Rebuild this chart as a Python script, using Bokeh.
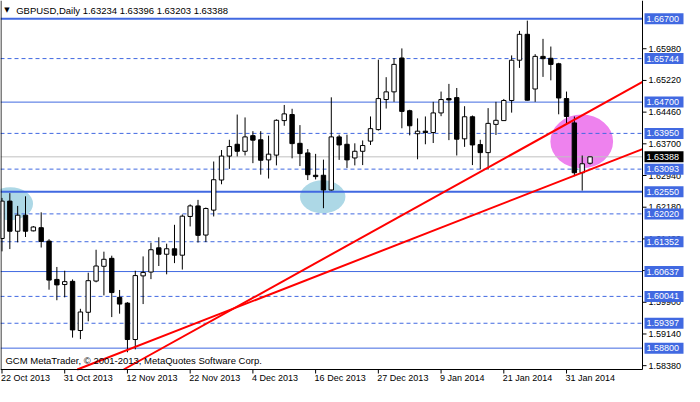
from bokeh.plotting import figure
from bokeh.models import Range1d, Label, ColumnDataSource
from bokeh.embed import file_html
from bokeh.resources import INLINE
from bokeh.core.properties import value

# ---------------- data ----------------
opens = [1.61430, 1.62326, 1.61604, 1.61988, 1.61613, 1.61689, 1.61367, 1.60448, 1.60326, 1.60402,
         1.59223, 1.59660, 1.60409, 1.60763, 1.60954, 1.60018, 1.59880, 1.59007, 1.60533, 1.60625,
         1.61206, 1.61052, 1.61183, 1.61029, 1.61958, 1.62211, 1.61512, 1.62110, 1.62832, 1.63406,
         1.63689, 1.63521, 1.63896, 1.63797, 1.63315, 1.63429, 1.64257, 1.64402, 1.63712, 1.63482,
         1.62946, 1.62946, 1.62593, 1.63866, 1.63689, 1.63361, 1.63521, 1.63765, 1.64041, 1.64762,
         1.64946, 1.65758, 1.64494, 1.63942, 1.64003, 1.63971, 1.64441, 1.64785, 1.64808, 1.63820,
         1.64349, 1.63682, 1.63489, 1.64166, 1.64257, 1.64739, 1.65705, 1.66326, 1.65015, 1.65797,
         1.65751, 1.65620, 1.64785, 1.64202, 1.63006, 1.63234]
highs = [1.62402, 1.62517, 1.62211, 1.62441, 1.61728, 1.62057, 1.61413, 1.60747, 1.60656, 1.60448,
         1.59743, 1.60609, 1.61160, 1.61114, 1.61017, 1.60195, 1.59903, 1.60656, 1.61000, 1.61328,
         1.61459, 1.61305, 1.61758, 1.62005, 1.62248, 1.62356, 1.62172, 1.63276, 1.63551, 1.63797,
         1.64402, 1.64333, 1.64003, 1.64003, 1.63896, 1.64287, 1.64632, 1.64540, 1.64149, 1.63574,
         1.63459, 1.63321, 1.64815, 1.63919, 1.63919, 1.63712, 1.63781, 1.64356, 1.65719, 1.65298,
         1.65758, 1.65988, 1.64517, 1.64310, 1.64356, 1.64707, 1.64953, 1.65137, 1.65039, 1.64602,
         1.64379, 1.63797, 1.64556, 1.64707, 1.64776, 1.65820, 1.66408, 1.66654, 1.65850, 1.66217,
         1.66033, 1.65643, 1.64953, 1.64356, 1.63420, 1.63396]
lows = [1.61121, 1.61176, 1.61337, 1.61466, 1.61600, 1.61213, 1.60202, 1.59949, 1.60018, 1.59053,
        1.59016, 1.59444, 1.60379, 1.60065, 1.59545, 1.59627, 1.58701, 1.58770, 1.59857, 1.60455,
        1.60770, 1.60570, 1.60839, 1.60685, 1.61719, 1.61333, 1.61344, 1.61958, 1.62730, 1.63099,
        1.63398, 1.63421, 1.63236, 1.62960, 1.62868, 1.63183, 1.64133, 1.63352, 1.63167, 1.62831,
        1.62846, 1.62156, 1.62580, 1.63315, 1.63122, 1.63183, 1.63190, 1.63673, 1.64018, 1.64546,
        1.64707, 1.64073, 1.63903, 1.63329, 1.63689, 1.63719, 1.64363, 1.63788, 1.63420, 1.63627,
        1.63190, 1.63091, 1.63084, 1.63912, 1.64448, 1.64448, 1.65521, 1.64739, 1.64707, 1.65305,
        1.65222, 1.64408, 1.64188, 1.62924, 1.62579, 1.63203]
closes = [1.62326, 1.61604, 1.61988, 1.61604, 1.61705, 1.61360, 1.60432, 1.60317, 1.60395, 1.59237,
          1.59667, 1.60418, 1.60770, 1.60931, 1.60133, 1.59857, 1.59007, 1.60540, 1.60616, 1.61160,
          1.61052, 1.61183, 1.61029, 1.61965, 1.62211, 1.61505, 1.62149, 1.62839, 1.63406, 1.63636,
          1.63521, 1.63866, 1.63788, 1.63306, 1.63452, 1.64264, 1.64418, 1.63705, 1.63466, 1.62960,
          1.62914, 1.62593, 1.63866, 1.63673, 1.63315, 1.63521, 1.63659, 1.64064, 1.64785, 1.64946,
          1.65605, 1.64478, 1.64133, 1.64003, 1.63971, 1.64441, 1.64762, 1.64753, 1.63811, 1.64349,
          1.63673, 1.63489, 1.64190, 1.64264, 1.64739, 1.65705, 1.66326, 1.64746, 1.65797, 1.65742,
          1.65605, 1.64799, 1.64356, 1.63006, 1.63222, 1.63388]

date_ticks = [0, 8, 16, 24, 32, 40, 48, 56, 64, 72]
date_labels = ["22 Oct 2013", "31 Oct 2013", "12 Nov 2013", "22 Nov 2013", "4 Dec 2013",
               "16 Dec 2013", "27 Dec 2013", "9 Jan 2014", "21 Jan 2014", "31 Jan 2014"]

price_ticks = [1.5838, 1.5914, 1.5990, 1.6066, 1.6142, 1.6218, 1.6294, 1.6370, 1.6446, 1.6522, 1.6598]

levels_thick = [1.66700, 1.62550]
levels_thin = [1.64700, 1.60637, 1.58800]
levels_dashed = [1.65744, 1.63950, 1.63093, 1.62020, 1.61352, 1.60041, 1.59397]
last_price = 1.63388

trend_a_x = [15.52, 81.69]
trend_a_y = [1.58288, 1.65183]
trend_b_x = [9.60, 81.69]
trend_b_y = [1.58288, 1.63574]

zone_x = [1.06, 40.9]
zone_y = [1.62264, 1.62430]
zone_w = [5.8, 5.8]
zone_h = [0.0079, 0.0079]
focus_x = [73.94]
focus_y = [1.63758]
focus_w = [8.0]
focus_h = [0.0129]

header_text = "GBPUSD,Daily  1.63234 1.63396 1.63203 1.63388"
copyright_text = "GCM MetaTrader, \u00a9 2001-2013, MetaQuotes Software Corp."

# ---------------- layout constants ----------------
BLUE = "#4169E1"
FONT = "Liberation Sans"
W, H = 684, 386
CH_W, CH_H = 642, 369          # chart (price area) size in px
X0, X1 = -0.19, 81.69          # chart x extent (bar index)
Y0, Y1 = 1.58288, 1.67137      # chart y extent (price)
UX = (X1 - X0) / CH_W          # data units per px
UY = (Y1 - Y0) / CH_H
XR = X0 + UX * W
YB = Y1 - UY * H

p = figure(width=W, height=H, x_range=Range1d(X0, XR), y_range=Range1d(YB, Y1),
           x_axis_location=None, y_axis_location=None, output_backend="svg",
           toolbar_location=None, min_border=0)
p.grid.visible = False
p.outline_line_color = None
p.background_fill_color = "white"
p.border_fill_color = "white"

# zones (behind everything)
p.ellipse(x=zone_x, y=zone_y, width=zone_w, height=zone_h, fill_color="#ADD8E6", line_color=None)
p.ellipse(x=focus_x, y=focus_y, width=focus_w, height=focus_h, fill_color="#EE82EE", line_color=None)

# level lines
def hlines(levels, **kw):
    n = len(levels)
    p.segment(x0=[X0] * n, x1=[X1] * n, y0=levels, y1=levels, **kw)

hlines([last_price], line_color="#C0C0C0", line_width=1)
hlines(levels_thick, line_color=BLUE, line_width=2)
hlines(levels_thin, line_color=BLUE, line_width=1)
hlines(levels_dashed, line_color=BLUE, line_width=1, line_dash="4 3")

# candles
idx = list(range(len(opens)))
src = ColumnDataSource(dict(
    x=idx, high=highs, low=lows,
    top=[max(o, c) for o, c in zip(opens, closes)],
    bottom=[min(o, c) for o, c in zip(opens, closes)],
    fill=["white" if c >= o else "black" for o, c in zip(opens, closes)],
))
p.segment(x0="x", y0="low", x1="x", y1="high", source=src, line_color="black", line_width=1)
p.vbar(x="x", width=0.56, top="top", bottom="bottom", fill_color="fill", line_color="black",
       line_width=1, source=src)

# trend lines
p.line(trend_a_x, trend_a_y, line_color="#FF0000", line_width=2)
p.line(trend_b_x, trend_b_y, line_color="#FF0000", line_width=2)

# chart frame (left, right/price axis line, bottom/time axis line)
p.segment(x0=[X0 + UX * 0.5, X1, X0], y0=[Y0, Y0, Y0], x1=[X0 + UX * 0.5, X1, X1],
          y1=[Y1, Y1, Y0], line_color="black", line_width=1)

# price axis ticks and labels
nt = len(price_ticks)
p.segment(x0=[X1] * nt, x1=[X1 + 4 * UX] * nt, y0=price_ticks, y1=price_ticks,
          line_color="black", line_width=1)
p.text(x=[X1 + 6 * UX] * nt, y=price_ticks, text=[f"{v:.5f}" for v in price_ticks],
       text_align="left", text_baseline="middle", text_font=value(FONT),
       text_font_size="9px", text_color="black")

# price level tags (blue for drawn levels, black for the last price)
tag_levels = levels_thick + levels_thin + levels_dashed + [last_price]
tag_colors = [BLUE] * (len(tag_levels) - 1) + ["black"]
ng = len(tag_levels)
tag_src = ColumnDataSource(dict(
    y=tag_levels, bottom=[v - 5.5 * UY for v in tag_levels], top=[v + 5.5 * UY for v in tag_levels],
    left=[X1 + 2 * UX] * ng, right=[X1 + 41 * UX] * ng, tx=[X1 + 4 * UX] * ng,
    text=[f"{v:.5f}" for v in tag_levels], color=tag_colors,
))
p.quad(left="left", right="right", bottom="bottom", top="top", fill_color="color",
       line_color=None, source=tag_src)
p.text(x="tx", y="y", text="text", source=tag_src, text_align="left", text_baseline="middle",
       text_font=value(FONT), text_font_size="9px", text_color="white")

# time axis ticks and labels
nd = len(date_ticks)
p.segment(x0=date_ticks, x1=date_ticks, y0=[Y0] * nd, y1=[Y0 - 4 * UY] * nd,
          line_color="black", line_width=1)
p.text(x=[t - UX for t in date_ticks], y=[Y0 - 3 * UY] * nd, text=date_labels,
       text_align="left", text_baseline="top", text_font=value(FONT),
       text_font_size="9px", text_color="black")

# header and copyright
p.add_layout(Label(x=0.62, y=1.66907, text="\u25bc", text_align="center", text_baseline="middle",
                   text_font="DejaVu Sans", text_font_size="7px", text_color="black"))
p.add_layout(Label(x=1.81, y=1.66907, text=header_text, text_align="left", text_baseline="middle",
                   text_font=FONT, text_font_size="9.5px", text_color="black"))
p.add_layout(Label(x=0.44, y=1.58495, text=copyright_text, text_align="left",
                   text_baseline="middle", text_font=FONT, text_font_size="9.5px",
                   text_color="black"))

open("out.html", "w").write(file_html(p, INLINE))
